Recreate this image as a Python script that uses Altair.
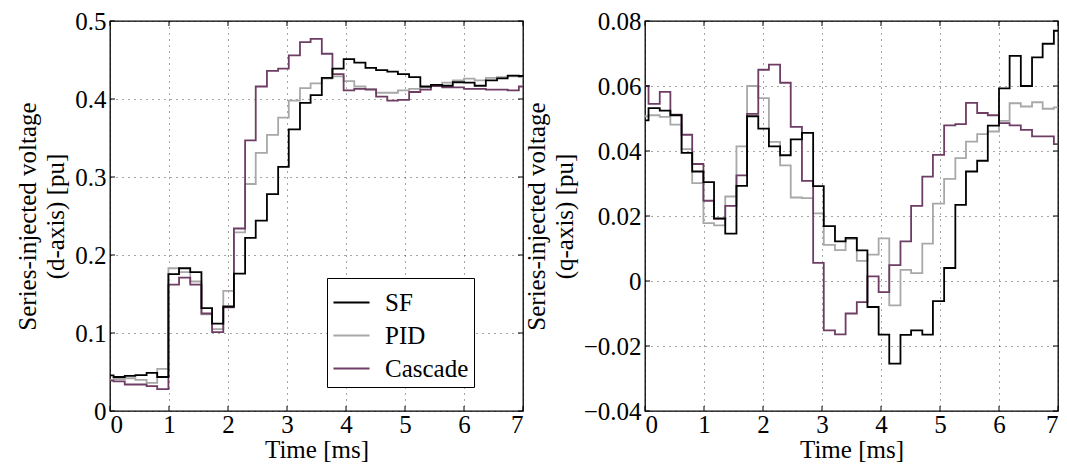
import altair as alt
import pandas as pd

# step start times [ms] (last entry = end of trace)
times = [0.0, 0.06, 0.25, 0.43, 0.62, 0.80, 0.99, 1.17, 1.36, 1.55, 1.73, 1.92,
         2.10, 2.29, 2.47, 2.66, 2.85, 3.03, 3.22, 3.40, 3.59, 3.77, 3.96, 4.14,
         4.33, 4.51, 4.70, 4.88, 5.07, 5.26, 5.44, 5.63, 5.81, 6.00, 6.18, 6.37,
         6.56, 6.74, 6.93, 7.0]

series_names = ["SF", "PID", "Cascade"]
series_colors = ["#000000", "#a8a8a8", "#6e3d64"]

x_ticks = [0, 1, 2, 3, 4, 5, 6, 7]
yd_ticks = [0, 0.1, 0.2, 0.3, 0.4, 0.5]
yq_ticks = [-0.04, -0.02, 0, 0.02, 0.04, 0.06, 0.08]

# d-axis voltage [pu]
sf_d = [0.0457, 0.0436, 0.045, 0.046, 0.049, 0.0436, 0.1756, 0.183, 0.178, 0.132,
        0.112, 0.134, 0.176, 0.222, 0.244, 0.278, 0.313, 0.361, 0.395, 0.405,
        0.427, 0.439, 0.451, 0.4466, 0.440, 0.437, 0.435, 0.432, 0.428, 0.416,
        0.418, 0.417, 0.4215, 0.421, 0.417, 0.424, 0.4265, 0.430, 0.4295]
pid_d = [0.040, 0.041, 0.042, 0.040, 0.036, 0.054, 0.183, 0.178, 0.166, 0.124,
         0.105, 0.154, 0.229, 0.291, 0.331, 0.354, 0.376, 0.398, 0.414, 0.420,
         0.426, 0.429, 0.423, 0.416, 0.413, 0.408, 0.408, 0.411, 0.413, 0.415,
         0.417, 0.421, 0.424, 0.426, 0.424, 0.427, 0.428, 0.429, 0.428]
cas_d = [0.039, 0.038, 0.034, 0.034, 0.032, 0.028, 0.162, 0.171, 0.162, 0.125,
         0.101, 0.133, 0.234, 0.347, 0.416, 0.436, 0.439, 0.456, 0.473, 0.477,
         0.458, 0.432, 0.411, 0.413, 0.412, 0.403, 0.398, 0.399, 0.409, 0.412,
         0.4165, 0.415, 0.415, 0.413, 0.413, 0.412, 0.412, 0.411, 0.416]

# q-axis voltage [pu]
sf_q = [0.0494, 0.0532, 0.0524, 0.051, 0.0394, 0.0337, 0.0304, 0.0193, 0.0146,
        0.0293, 0.0507, 0.0469, 0.0414, 0.0387, 0.0436, 0.0456, 0.0292, 0.0169,
        0.0122, 0.0133, 0.0094, -0.008, -0.0165, -0.0254, -0.0166, -0.0152,
        -0.0165, -0.0062, 0.004, 0.0234, 0.0337, 0.037, 0.0478, 0.0593, 0.0693,
        0.060, 0.0688, 0.073, 0.077]
pid_q = [0.0507, 0.051, 0.0505, 0.0481, 0.0406, 0.0301, 0.0178, 0.0171, 0.026,
         0.0414, 0.060, 0.0563, 0.0428, 0.0356, 0.0257, 0.0255, 0.0208, 0.0111,
         0.0095, 0.0129, 0.0062, 0.0081, 0.0131, -0.0075, 0.0034, 0.0024,
         0.0115, 0.0238, 0.0314, 0.0378, 0.0429, 0.0452, 0.046, 0.0493, 0.0547,
         0.0537, 0.055, 0.053, 0.0534]
cas_q = [0.060, 0.0545, 0.0582, 0.0512, 0.045, 0.036, 0.0247, 0.0191, 0.0231,
         0.0325, 0.0514, 0.065, 0.0666, 0.061, 0.0474, 0.0308, 0.0056, -0.0152,
         -0.0164, -0.010, -0.0065, 0.0014, -0.0034, 0.0049, 0.0122, 0.0231,
         0.0321, 0.0388, 0.0479, 0.0483, 0.0548, 0.0517, 0.051, 0.0486, 0.0479,
         0.0465, 0.0445, 0.0445, 0.0421]

FONT = "Liberation Serif, DejaVu Serif, serif"
FS = 25
W, H = 413, 390
TK = 5  # inward tick length


def long_frame(sf, pid, cas):
    rows = []
    # draw order: PID, Cascade, SF (SF on top)
    for name, vals in (("PID", pid), ("Cascade", cas), ("SF", sf)):
        full = list(vals) + [vals[-1]]
        for t, v in zip(times, full):
            rows.append({"t": t, "v": v, "series": name})
    return pd.DataFrame(rows)


color_scale = alt.Scale(domain=series_names, range=series_colors)


def panel(df, ydom, yticks, yfmt, ytitle, legend):
    xs = alt.Scale(domain=[0, 7], nice=False)
    ys = alt.Scale(domain=ydom, nice=False)
    lines = alt.Chart(df).mark_line(interpolate="step-after", strokeWidth=1.8).encode(
        x=alt.X("t:Q", scale=xs,
                axis=alt.Axis(values=x_ticks, format="d", title="Time [ms]")),
        y=alt.Y("v:Q", scale=ys,
                axis=alt.Axis(values=yticks,
                              labelExpr="datum.value == 0 ? '0' : format(datum.value, '%s')" % yfmt,
                              title=ytitle)),
        color=alt.Color("series:N", scale=color_scale, legend=legend),
    )
    xt = pd.DataFrame({"t": x_ticks})
    yt = pd.DataFrame({"v": yticks})
    tick_style = dict(color="black", strokeWidth=1)
    top = alt.Chart(xt).mark_rule(**tick_style).encode(
        x=alt.X("t:Q", scale=xs), y=alt.value(0), y2=alt.value(TK))
    bot = alt.Chart(xt).mark_rule(**tick_style).encode(
        x=alt.X("t:Q", scale=xs), y=alt.value(H - TK), y2=alt.value(H))
    lft = alt.Chart(yt).mark_rule(**tick_style).encode(
        y=alt.Y("v:Q", scale=ys), x=alt.value(0), x2=alt.value(TK))
    rgt = alt.Chart(yt).mark_rule(**tick_style).encode(
        y=alt.Y("v:Q", scale=ys), x=alt.value(W - TK), x2=alt.value(W))
    return alt.layer(lines, top, bot, lft, rgt).properties(width=W, height=H)


left = panel(long_frame(sf_d, pid_d, cas_d), [0, 0.5], yd_ticks, ".1f",
             ["Series-injected voltage", "(d-axis) [pu]"],
             alt.Legend(orient="none", legendX=217, legendY=257,
                        title=None, symbolType="stroke",
                        symbolSize=1300, symbolStrokeWidth=2,
                        labelFont=FONT, labelFontSize=FS,
                        strokeColor="black", fillColor="white",
                        padding=5, rowPadding=0, labelOffset=14))
right = panel(long_frame(sf_q, pid_q, cas_q), [-0.04, 0.08], yq_ticks, ".2f",
              ["Series-injected voltage", "(q-axis) [pu]"], None)

chart = alt.hconcat(left, right, spacing=122, bounds="flush").resolve_scale(
    color="independent"
).resolve_legend(color="independent").properties(
    padding={"left": 15, "top": 8, "right": 3, "bottom": 0}
).configure_view(
    stroke="black", strokeWidth=1.3
).configure_axis(
    labelFont=FONT, labelFontSize=FS, labelColor="black",
    titleFont=FONT, titleFontSize=FS, titleFontWeight="normal", titleColor="black",
    domain=False, ticks=False, labelPadding=4,
    grid=True, gridColor="black", gridDash=[1, 5], gridWidth=1, gridOpacity=0.7,
).configure_axisX(
    titlePadding=0, labelPadding=1,
).configure_axisY(
    titlePadding=6, titleLineHeight=28,
)

chart.save("out.html", embed_options={"renderer": "svg", "actions": False})
